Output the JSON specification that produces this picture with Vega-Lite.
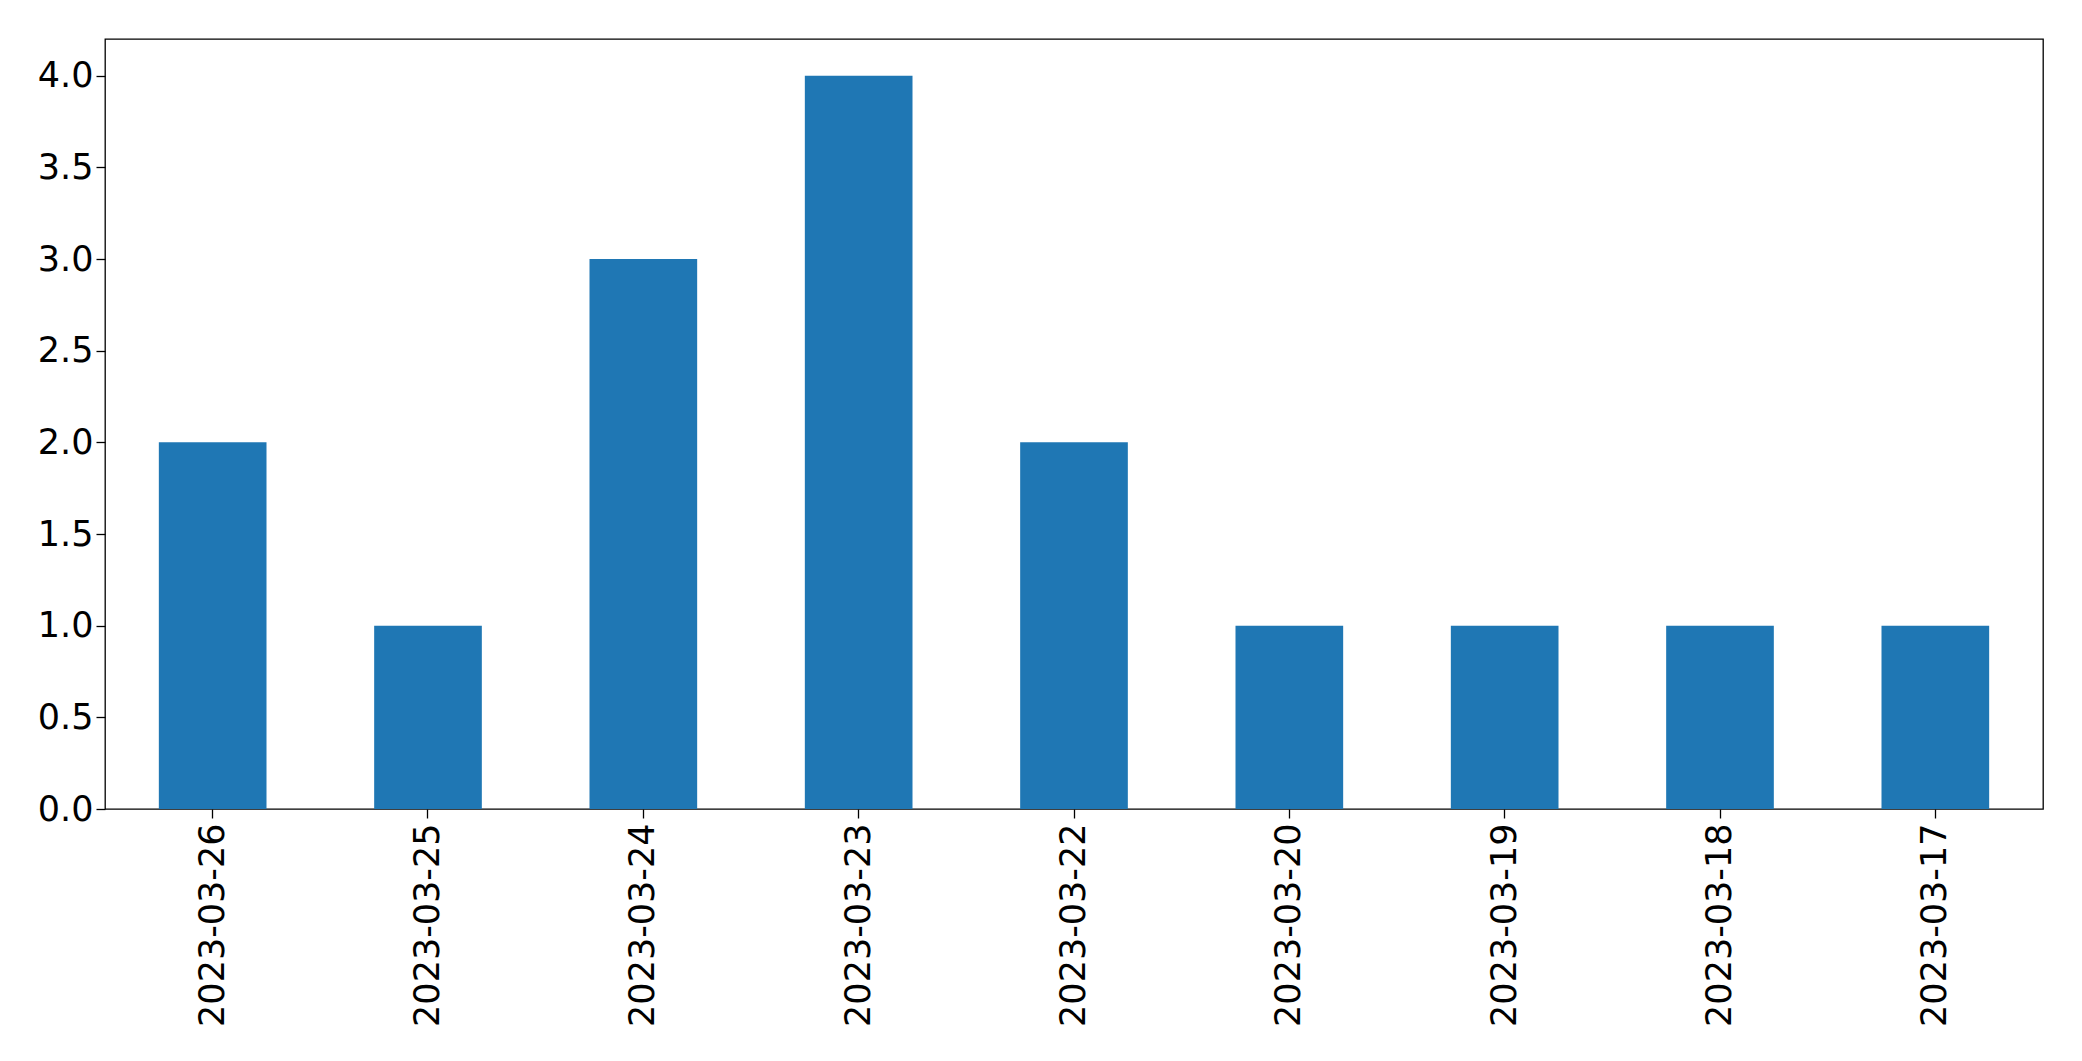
{
  "$schema": "https://vega.github.io/schema/vega-lite/v6.json",
  "autosize": {"type": "none"},
  "padding": {"left": 105, "top": 39, "right": 39, "bottom": 252},
  "width": 1938,
  "height": 770,
  "background": "white",
  "config": {
    "view": {"stroke": "black", "strokeWidth": 1.3},
    "font": "DejaVu Sans"
  },
  "data": {
    "values": [
      {"date": "2023-03-26", "count": 2},
      {"date": "2023-03-25", "count": 1},
      {"date": "2023-03-24", "count": 3},
      {"date": "2023-03-23", "count": 4},
      {"date": "2023-03-22", "count": 2},
      {"date": "2023-03-20", "count": 1},
      {"date": "2023-03-19", "count": 1},
      {"date": "2023-03-18", "count": 1},
      {"date": "2023-03-17", "count": 1}
    ]
  },
  "mark": {"type": "bar", "color": "#1f77b4"},
  "encoding": {
    "x": {
      "field": "date",
      "type": "nominal",
      "sort": null,
      "title": null,
      "scale": {"paddingInner": 0.5, "paddingOuter": 0.25},
      "axis": {
        "labelAngle": -90,
        "labelFontSize": 35,
        "labelLimit": 0,
        "labelColor": "black",
        "labelFont": "DejaVu Sans",
        "labelPadding": 5,
        "tickSize": 9,
        "tickColor": "black",
        "tickWidth": 1.3,
        "domain": false,
        "grid": false
      }
    },
    "y": {
      "field": "count",
      "type": "quantitative",
      "title": null,
      "scale": {"domain": [0, 4.2], "nice": false, "zero": true},
      "axis": {
        "values": [0, 0.5, 1, 1.5, 2, 2.5, 3, 3.5, 4],
        "format": ".1f",
        "labelFontSize": 35,
        "labelLimit": 0,
        "labelColor": "black",
        "labelFont": "DejaVu Sans",
        "labelPadding": 3,
        "tickSize": 9,
        "tickColor": "black",
        "tickWidth": 1.3,
        "domain": false,
        "grid": false
      }
    }
  }
}
